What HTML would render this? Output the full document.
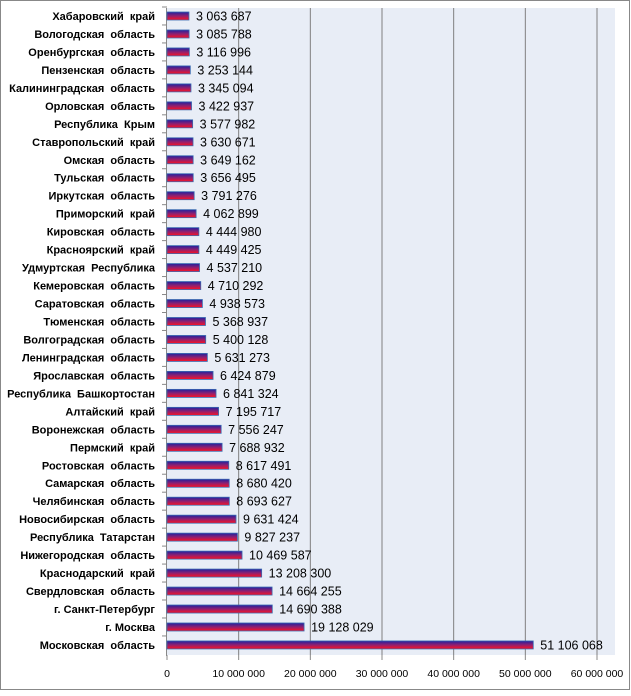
<!DOCTYPE html>
<html><head><meta charset="utf-8"><style>
body{margin:0;background:#fff;}
svg text{font-family:"Liberation Sans",sans-serif;}
</style></head><body>
<svg id="s" width="631" height="691" xmlns="http://www.w3.org/2000/svg">
<defs><linearGradient id="g" x1="0" y1="0" x2="0" y2="1">
<stop offset="0" stop-color="#2020a0"/><stop offset="0.5" stop-color="#902070"/><stop offset="1" stop-color="#ff1020"/></linearGradient></defs>
<rect x="0.5" y="0.5" width="629" height="689" fill="#fff" stroke="#888"/>
<rect x="167" y="8" width="448" height="647" fill="#e8edf6"/>
</svg>
<script>
const d=[["Хабаровский  край",3063687],["Вологодская  область",3085788],["Оренбургская  область",3116996],["Пензенская  область",3253144],["Калининградская  область",3345094],["Орловская  область",3422937],["Республика  Крым",3577982],["Ставропольский  край",3630671],["Омская  область",3649162],["Тульская  область",3656495],["Иркутская  область",3791276],["Приморский  край",4062899],["Кировская  область",4444980],["Красноярский  край",4449425],["Удмуртская  Республика",4537210],["Кемеровская  область",4710292],["Саратовская  область",4938573],["Тюменская  область",5368937],["Волгоградская  область",5400128],["Ленинградская  область",5631273],["Ярославская  область",6424879],["Республика  Башкортостан",6841324],["Алтайский  край",7195717],["Воронежская  область",7556247],["Пермский  край",7688932],["Ростовская  область",8617491],["Самарская  область",8680420],["Челябинская  область",8693627],["Новосибирская  область",9631424],["Республика  Татарстан",9827237],["Нижегородская  область",10469587],["Краснодарский  край",13208300],["Свердловская  область",14664255],["г. Санкт-Петербург",14690388],["г. Москва",19128029],["Московская  область",51106068]];
const s=document.getElementById('s');let h='';
const x0=167,k=(597-167)/60e6;
for(let i=1;i<=6;i++){const x=x0+i*10e6*k;h+=`<line x1="${x}" y1="8" x2="${x}" y2="655" stroke="#808080"/>`;}
for(let i=0;i<=6;i++){const x=x0+i*10e6*k;h+=`<text x="${x}" y="677" font-size="10.5" text-anchor="middle">${i?(i*10)+' 000 000':'0'}</text><line x1="${x}" y1="655" x2="${x}" y2="660" stroke="#888"/>`;}
h+=`<line x1="166.5" y1="8" x2="166.5" y2="656" stroke="#888"/>`;
d.forEach((r,i)=>{const y=16+i*17.97;const w=r[1]*k;
h+=`<line x1="162" y1="${y-9}" x2="167" y2="${y-9}" stroke="#888"/>`;
h+=`<rect x="${x0}" y="${y-4}" width="${w}" height="8" fill="url(#g)" stroke="#3a6ab0" stroke-width="0.8"/>`;
h+=`<text x="155" y="${y+4}" font-size="11" font-weight="bold" text-anchor="end" xml:space="preserve">${r[0]}</text>`;
h+=`<text x="${x0+w+7}" y="${y+4.5}" font-size="12.5">${r[1].toLocaleString('en').replace(/,/g,' ')}</text>`;});
s.insertAdjacentHTML('beforeend',h);
</script>
</body></html>
